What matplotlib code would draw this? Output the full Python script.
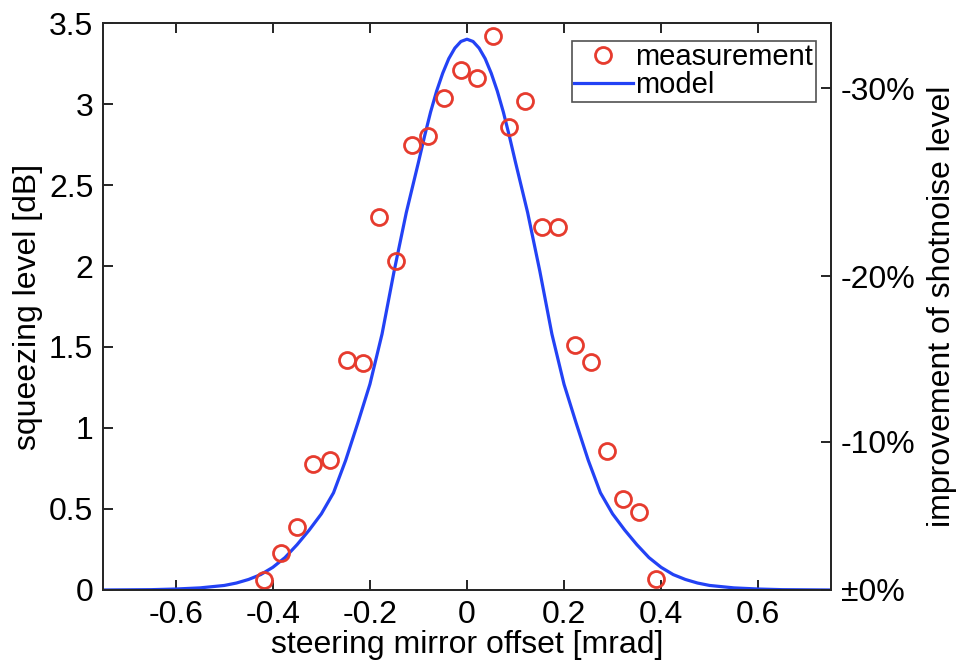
import numpy as np
import matplotlib
matplotlib.use("Agg")
import matplotlib.pyplot as plt

plt.rcParams["font.family"] = ["Liberation Sans", "DejaVu Sans"]

# measured squeezing vs. steering mirror offset
meas_x = [-0.418, -0.383, -0.350, -0.317, -0.282, -0.248, -0.215, -0.182,
          -0.147, -0.114, -0.081, -0.048, -0.012, 0.021, 0.054, 0.087,
          0.120, 0.155, 0.188, 0.222, 0.255, 0.288, 0.321, 0.354, 0.389]
meas_y = [0.06, 0.23, 0.39, 0.78, 0.80, 1.42, 1.40, 2.30,
          2.03, 2.75, 2.80, 3.04, 3.21, 3.16, 3.42, 2.86,
          3.02, 2.24, 2.24, 1.51, 1.41, 0.86, 0.56, 0.48, 0.07]

# model curve
model_x = [-0.75, -0.70, -0.65, -0.60, -0.55, -0.50, -0.475, -0.45, -0.425,
           -0.40, -0.375, -0.35, -0.325, -0.30, -0.275, -0.25, -0.225, -0.20,
           -0.175, -0.15, -0.125, -0.10, -0.0875, -0.075, -0.0625, -0.05,
           -0.0375, -0.025, -0.0125, 0.0,
           0.0125, 0.025, 0.0375, 0.05, 0.0625, 0.075, 0.0875, 0.10, 0.125,
           0.15, 0.175, 0.20, 0.225, 0.25,
           0.275, 0.30, 0.325, 0.35, 0.375, 0.40, 0.425, 0.45, 0.475, 0.50,
           0.55, 0.60, 0.65, 0.70, 0.75]
model_y = [0.0, 0.001, 0.002, 0.006, 0.013, 0.028, 0.043, 0.065, 0.095,
           0.14, 0.20, 0.28, 0.37, 0.47, 0.60, 0.80, 1.03, 1.27,
           1.58, 1.97, 2.33, 2.64, 2.80, 2.95, 3.08, 3.19,
           3.28, 3.345, 3.386, 3.40,
           3.386, 3.345, 3.28, 3.19, 3.08, 2.95, 2.80, 2.64, 2.33,
           1.97, 1.58, 1.27, 1.03, 0.80,
           0.60, 0.47, 0.37, 0.28, 0.20, 0.14, 0.095, 0.065, 0.043, 0.028,
           0.013, 0.006, 0.002, 0.001, 0.0]

left_ticks = [0, 0.5, 1, 1.5, 2, 2.5, 3, 3.5]
left_labels = ["0", "0.5", "1", "1.5", "2", "2.5", "3", "3.5"]
x_ticks = [-0.6, -0.4, -0.2, 0, 0.2, 0.4, 0.6]
x_labels = ["-0.6", "-0.4", "-0.2", "0", "0.2", "0.4", "0.6"]
shot_pct = [0.0, 0.1, 0.2, 0.3]
shot_labels = ["\u00b10%", "-10%", "-20%", "-30%"]

red = "#e63b2e"
blue = "#2342f5"
fs = 23

fig = plt.figure(figsize=(9.57, 6.65), dpi=100)
ax = fig.add_axes([0.1076, 0.1128, 0.7607, 0.8526])

ax.plot(meas_x, meas_y, "o", mfc="none", mec=red, ms=11.5, mew=2.0,
        label="measurement", zorder=3)
ax.plot(model_x, model_y, "-", color=blue, lw=2.3, label="model", zorder=2)

ax.set_xlim(-0.75, 0.75)
ax.set_ylim(0, 3.5)
ax.set_xticks(x_ticks)
ax.set_xticklabels(x_labels)
ax.set_yticks(left_ticks)
ax.set_yticklabels(left_labels)
ax.tick_params(direction="in", length=7, width=1.2, labelsize=fs,
               top=True, right=False, pad=7)
for s in ax.spines.values():
    s.set_linewidth(1.3)
    s.set_color("#262626")
ax.set_xlabel("steering mirror offset [mrad]", fontsize=fs, labelpad=0)
ax.set_ylabel("squeezing level [dB]", fontsize=fs, labelpad=4)

# right axis: shot noise improvement in percent
ax2 = ax.twinx()
ax2.set_ylim(ax.get_ylim())
ax2.set_yticks([20 * np.log10(1 / (1 - p)) for p in shot_pct])
ax2.set_yticklabels(shot_labels)
ax2.tick_params(direction="in", length=7, width=1.2, labelsize=fs, pad=7)
for s in ax2.spines.values():
    s.set_linewidth(1.3)
    s.set_color("#262626")
ax2.set_ylabel("improvement of shotnoise level", fontsize=fs, labelpad=8)

leg = ax.legend(loc="upper right", bbox_to_anchor=(0.979, 0.968),
                fontsize=21, frameon=True, fancybox=False,
                edgecolor="#262626", borderpad=0.08, handletextpad=0.1,
                labelspacing=0.0, handlelength=2.0, borderaxespad=0.0)
leg.get_frame().set_linewidth(1.2)

fig.savefig("out.png", dpi=100)
